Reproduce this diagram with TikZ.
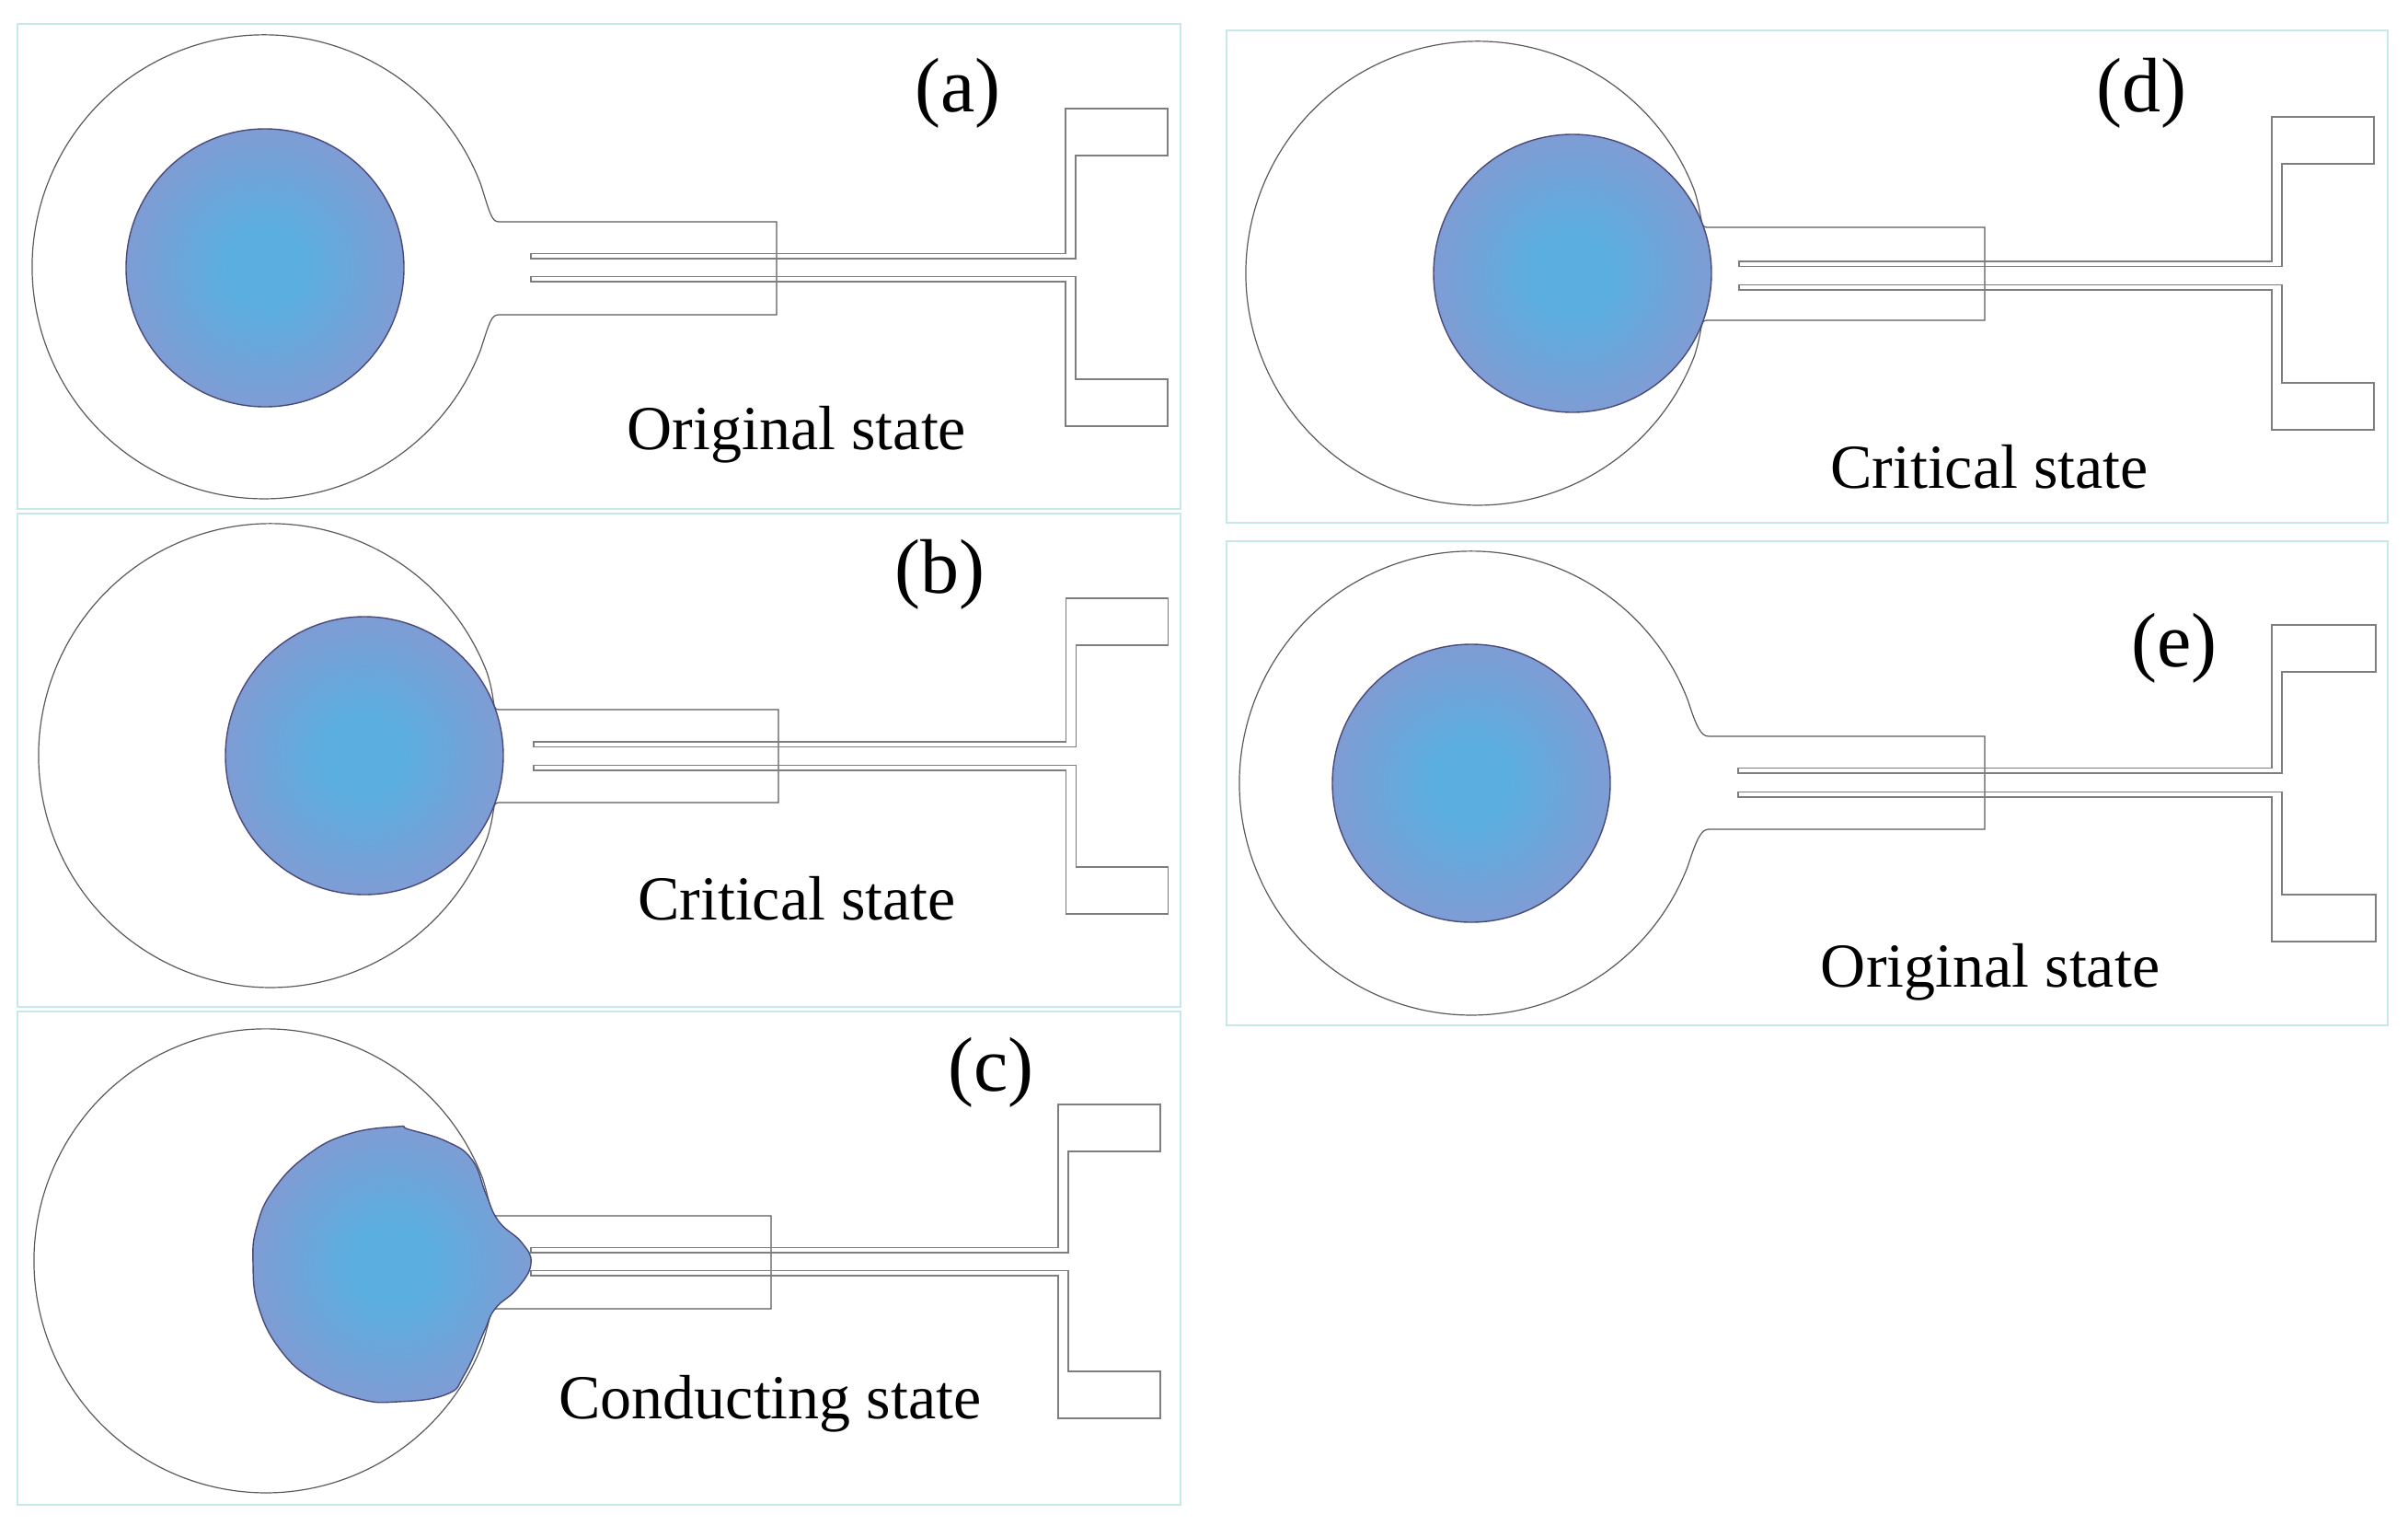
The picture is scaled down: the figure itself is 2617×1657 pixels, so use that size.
\documentclass[tikz,border=0pt]{standalone}
\usepackage{fontspec}
\setmainfont{Liberation Serif}
\definecolor{framec}{HTML}{C6E8EB}
\definecolor{linec}{HTML}{7E7E7E}
\definecolor{bodyc}{HTML}{5A5A5A}
\definecolor{blobline}{HTML}{4A4A78}
\definecolor{blobin}{HTML}{5BAFE0}
\definecolor{blobout}{HTML}{9391CD}
\pgfdeclareradialshading{blobshade}{\pgfpoint{0bp}{0bp}}{color(0bp)=(blobin); color(7bp)=(blobin); color(35.5bp)=(blobout); color(50bp)=(blobout)}
\tikzset{
  panelframe/.style={draw=framec,line width=2.6pt},
  wire/.style={draw=linec,line width=1.5pt,line join=miter},
  bodyline/.style={draw=bodyc,line width=1.2pt},
  blob/.style={shading=blobshade,draw=blobline,line width=1.4pt},
  statelabel/.style={font=\fontsize{68}{80}\selectfont,text=black,inner sep=0pt},
  letterlabel/.style={font=\fontsize{84}{94}\selectfont,text=black,inner sep=0pt}
}
% circle cx, cy, rect left, rect top, rect right
\newcommand{\bodyoutline}[5]{%
  \draw[bodyline] ({#1+235.4},{#2-90}) arc[start angle=20.9,end angle=339.1,radius=252pt]
    .. controls ({#1+245},{#2+60}) and ({#3-8},{#4+101}) .. ({#3},{#4+101})
    -- ({#5},{#4+101}) -- ({#5},{#4}) -- ({#3},{#4})
    .. controls ({#3-8},{#4}) and ({#1+245},{#2-60}) .. ({#1+235.4},{#2-90});
}
% x of inner left end, x of outer bend, right end, y top, y of upper trace, y of lower trace (first line), y bottom
\newcommand{\tracepair}[7]{%
  \draw[wire] (#1,#5) -- (#2,#5) -- (#2,#4) -- (#3,#4) -- (#3,{#4+51}) -- ({#2+11},{#4+51}) -- ({#2+11},{#5+5.5}) -- (#1,{#5+5.5}) -- cycle;
  \draw[wire] (#1,{#6+5.5}) -- (#2,{#6+5.5}) -- (#2,#7) -- (#3,#7) -- (#3,{#7-51}) -- ({#2+11},{#7-51}) -- ({#2+11},#6) -- (#1,#6) -- cycle;
}
\begin{document}
\begin{tikzpicture}[x=1pt,y=-1pt]
\useasboundingbox (0,0) rectangle (2617,1657);
% frames
\draw[panelframe] (19,26) rectangle (1283,553);
\draw[panelframe] (19,558) rectangle (1283,1094);
\draw[panelframe] (19,1099) rectangle (1283,1635);
\draw[panelframe] (1333,33) rectangle (2595,568);
\draw[panelframe] (1333,588) rectangle (2595,1114);
% (a)
\bodyoutline{287}{290}{542}{241}{844}
\tracepair{577}{1158}{1269}{118}{275.5}{300.5}{463}
\shadedraw[blob] (288,291) circle[radius=151pt];
% (b)
\bodyoutline{294}{821}{542}{771}{846}
\tracepair{580}{1158.5}{1269.5}{650}{806}{831.5}{993}
\shadedraw[blob] (396,821) circle[radius=151pt];
% (c)
\bodyoutline{289}{1370}{540}{1321}{838}
\tracepair{577}{1150}{1261}{1200}{1355.5}{1380.5}{1541}
\shadedraw[blob] plot[smooth cycle,tension=0.75] coordinates {
 (432,1224) (379,1232) (334,1255) (297,1293) (279,1333) (275,1373) (281,1420)
 (305,1467) (342,1500) (391,1520) (432,1523) (485,1515) (505,1493) (526,1447)
 (538,1422) (562,1400) (577,1373) (567,1350) (542,1327) (528,1297) (513,1260)
 (485,1240) (444,1227)};
% (d)
\bodyoutline{1606}{297}{1855}{247}{2157}
\tracepair{1890}{2469}{2580}{127}{284}{309.5}{467}
\shadedraw[blob] (1709,297) circle[radius=151pt];
% (e)
\bodyoutline{1599}{851}{1857}{800}{2157}
\tracepair{1889}{2469}{2582}{679}{834.5}{860.5}{1023}
\shadedraw[blob] (1599,851) circle[radius=151pt];
% labels
\node[letterlabel] (la) at (1041,101) {(a)};
\node[letterlabel] (lb) at (1021,624) {(b)};
\node[letterlabel] (lc) at (1077,1165) {(c)};
\node[letterlabel] (ld) at (2327,101) {(d)};
\node[letterlabel] (le) at (2363,704) {(e)};
\node[statelabel] (sa) at (866,472) {Original state};
\node[statelabel] (sb) at (866,976) {Critical state};
\node[statelabel] (sc) at (837,1525) {Conducting state};
\node[statelabel] (sd) at (2162,507) {Critical state};
\node[statelabel] (se) at (2163,1056) {Original state};
\end{tikzpicture}
\end{document}
